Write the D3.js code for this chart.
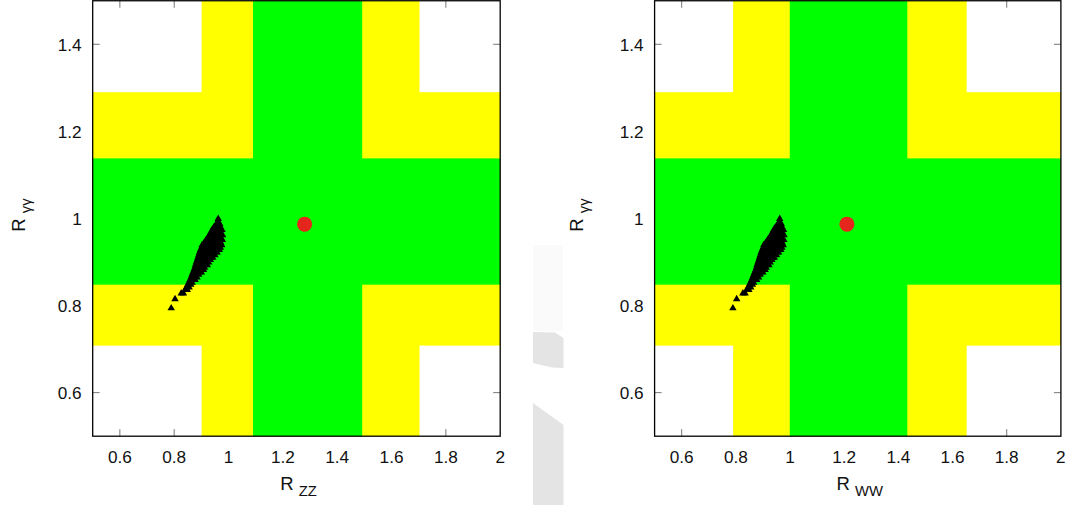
<!DOCTYPE html>
<html>
<head>
<meta charset="utf-8">
<script src="https://cdn.jsdelivr.net/npm/d3@7"></script>
<style>
body{margin:0;background:#fff;}
svg{display:block;font-family:"Liberation Sans",Arial,sans-serif;}
</style>
</head>
<body>
<div id="chart"></div>
<script>
const W = 1080, H = 505;

// measured signal strengths, central value + 1 sigma / 2 sigma ranges
const rAA = 0.987;
const aaSigma1 = [0.848, 1.138];
const aaSigma2 = [0.708, 1.290];
const rZZ = 1.28;
const zzSigma1 = [1.090, 1.492];
const zzSigma2 = [0.901, 1.703];
const rWW = 1.21;
const wwSigma1 = [0.999, 1.433];
const wwSigma2 = [0.790, 1.652];

const xTicks = [0.6, 0.8, 1, 1.2, 1.4, 1.6, 1.8, 2];
const yTicks = [0.6, 0.8, 1, 1.2, 1.4];

// model scan points [R_VV, R_gamma gamma] (same in both panels)
const scanPoints = [
  [0.962,0.999],
  [0.961,0.993],
  [0.955,0.987],[0.968,0.987],
  [0.946,0.980],[0.958,0.980],[0.970,0.980],
  [0.940,0.974],[0.952,0.974],[0.964,0.974],[0.976,0.974],
  [0.935,0.968],[0.947,0.968],[0.959,0.968],[0.971,0.968],
  [0.930,0.962],[0.942,0.962],[0.954,0.962],[0.966,0.962],[0.978,0.962],
  [0.924,0.956],[0.936,0.956],[0.948,0.956],[0.960,0.956],[0.972,0.956],
  [0.918,0.951],[0.930,0.951],[0.942,0.951],[0.954,0.951],[0.966,0.951],[0.977,0.951],
  [0.911,0.945],[0.923,0.945],[0.935,0.945],[0.947,0.945],[0.959,0.945],[0.971,0.945],
  [0.903,0.939],[0.917,0.939],[0.929,0.939],[0.941,0.939],[0.953,0.939],[0.965,0.939],[0.975,0.939],
  [0.901,0.933],[0.913,0.933],[0.925,0.933],[0.937,0.933],[0.949,0.933],[0.961,0.933],[0.970,0.933],
  [0.897,0.928],[0.909,0.928],[0.921,0.928],[0.933,0.928],[0.945,0.928],[0.957,0.928],[0.966,0.928],
  [0.893,0.922],[0.905,0.922],[0.917,0.922],[0.929,0.922],[0.941,0.922],[0.953,0.922],[0.958,0.922],
  [0.890,0.916],[0.902,0.916],[0.914,0.916],[0.926,0.916],[0.938,0.916],[0.950,0.916],
  [0.887,0.910],[0.899,0.910],[0.911,0.910],[0.923,0.910],[0.935,0.910],[0.942,0.910],
  [0.885,0.905],[0.897,0.905],[0.909,0.905],[0.921,0.905],[0.933,0.905],
  [0.881,0.899],[0.893,0.899],[0.905,0.899],[0.917,0.899],[0.927,0.899],
  [0.878,0.893],[0.890,0.893],[0.902,0.893],[0.914,0.893],[0.922,0.893],
  [0.876,0.887],[0.888,0.887],[0.900,0.887],[0.912,0.887],
  [0.873,0.882],[0.885,0.882],[0.897,0.882],[0.908,0.882],
  [0.869,0.876],[0.881,0.876],[0.893,0.876],[0.900,0.876],
  [0.866,0.871],[0.878,0.871],[0.890,0.871],
  [0.862,0.865],[0.874,0.865],[0.884,0.865],
  [0.858,0.859],[0.870,0.859],[0.877,0.859],
  [0.854,0.853],[0.866,0.853],
  [0.850,0.848],[0.861,0.848],
  [0.845,0.842],[0.855,0.842],
  [0.840,0.836],[0.848,0.836],
  [0.826,0.828],[0.834,0.828],
  [0.803,0.815],
  [0.789,0.794]
];

const panels = [
  {sub: 'ZZ', left: 92.7, right: 500.2, central: rZZ, s1: zzSigma1, s2: zzSigma2, ylabX: 24.5},
  {sub: 'WW', left: 654.6, right: 1060.9, central: rWW, s1: wwSigma1, s2: wwSigma2, ylabX: 583}
];
const yTop = 0.75, yBottom = 436.2;

const svg = d3.select('#chart').append('svg').attr('width', W).attr('height', H);

// faint grey smudge between the panels (from the scanned figure)
svg.append('rect').attr('x', 533).attr('y', 245).attr('width', 30).attr('height', 86).attr('fill', '#fafafa');
svg.append('polygon').attr('points', '533,332 555,332.5 563.5,338 563.5,368 552,367.5 533,363').attr('fill', '#e4e4e4');
svg.append('polygon').attr('points', '533,403 563.5,425 563.5,505 533,505').attr('fill', '#e4e4e4');

panels.forEach(p => drawPanel(p));

function drawPanel(p){
  const x = d3.scaleLinear().domain([0.5, 2]).range([p.left, p.right]);
  const y = d3.scaleLinear().domain([0.5, 1.5]).range([yBottom, yTop]);
  const g = svg.append('g');

  //tick marks on all four sides (drawn first, bands cover some of them)
  const tl = 7;
  g.selectAll('.xt').data(xTicks.filter(d => d < 2)).join('g').each(function(d){
    const s = d3.select(this);
    s.append('line').attr('x1', x(d)).attr('x2', x(d)).attr('y1', yBottom).attr('y2', yBottom - tl);
    s.append('line').attr('x1', x(d)).attr('x2', x(d)).attr('y1', yTop).attr('y2', yTop + tl);
  });
  g.selectAll('.yt').data(yTicks).join('g').each(function(d){
    const s = d3.select(this);
    s.append('line').attr('x1', p.left).attr('x2', p.left + tl).attr('y1', y(d)).attr('y2', y(d));
    s.append('line').attr('x1', p.right).attr('x2', p.right - tl).attr('y1', y(d)).attr('y2', y(d));
  });
  g.selectAll('line').attr('stroke', '#777').attr('stroke-width', 1);

  //2 sigma bands (yellow), then 1 sigma (green)
  const bands = [
    {c: '#ffff00', xr: p.s2, yr: aaSigma2},
    {c: '#00ff00', xr: p.s1, yr: aaSigma1}
  ];
  bands.forEach(b => {
    g.append('rect')
      .attr('x', p.left).attr('width', p.right - p.left)
      .attr('y', y(b.yr[1])).attr('height', y(b.yr[0]) - y(b.yr[1]))
      .attr('fill', b.c);
    g.append('rect')
      .attr('x', x(b.xr[0])).attr('width', x(b.xr[1]) - x(b.xr[0]))
      .attr('y', yTop).attr('height', yBottom - yTop)
      .attr('fill', b.c);
  });

  //scan points
  const tri = d3.symbol().type(d3.symbolTriangle).size(24);
  g.selectAll('.pt').data(scanPoints).join('path')
    .attr('class', 'pt')
    .attr('d', tri)
    .attr('transform', d => `translate(${x(d[0])},${y(d[1])})`)
    .attr('fill', '#000');

  //measured point
  g.append('circle')
    .attr('cx', x(p.central)).attr('cy', y(rAA)).attr('r', 7.5)
    .attr('fill', '#e4261c');

  //frame
  g.append('rect')
    .attr('x', p.left).attr('y', yTop)
    .attr('width', p.right - p.left).attr('height', yBottom - yTop)
    .attr('fill', 'none').attr('stroke', '#000').attr('stroke-width', 1.3);

  //tick labels
  g.selectAll('.xl').data(xTicks).join('text')
    .attr('x', d => x(d)).attr('y', 463)
    .attr('text-anchor', 'middle')
    .attr('font-size', 17.2).attr('fill', '#111')
    .text(d => String(d));
  g.selectAll('.yl').data(yTicks).join('text')
    .attr('x', p.left - 11).attr('y', d => y(d)).attr('dy', '0.37em')
    .attr('text-anchor', 'end')
    .attr('font-size', 17.2).attr('fill', '#111')
    .text(d => String(d));

  //axis titles
  const xt = g.append('text')
    .attr('x', (p.left + p.right) / 2 + 2).attr('y', 490)
    .attr('text-anchor', 'middle').attr('font-size', 18.5).attr('fill', '#111');
  xt.append('tspan').text('R ');
  xt.append('tspan').attr('dy', 6).attr('font-size', 14.8).text(p.sub);

  const yt = g.append('text')
    .attr('transform', `translate(${p.ylabX},215) rotate(-90)`)
    .attr('text-anchor', 'middle').attr('font-size', 18.5).attr('fill', '#111');
  yt.append('tspan').text('R ');
  yt.append('tspan').attr('dy', 6).attr('font-size', 14.8).text('γγ');
}
</script>
</body>
</html>
